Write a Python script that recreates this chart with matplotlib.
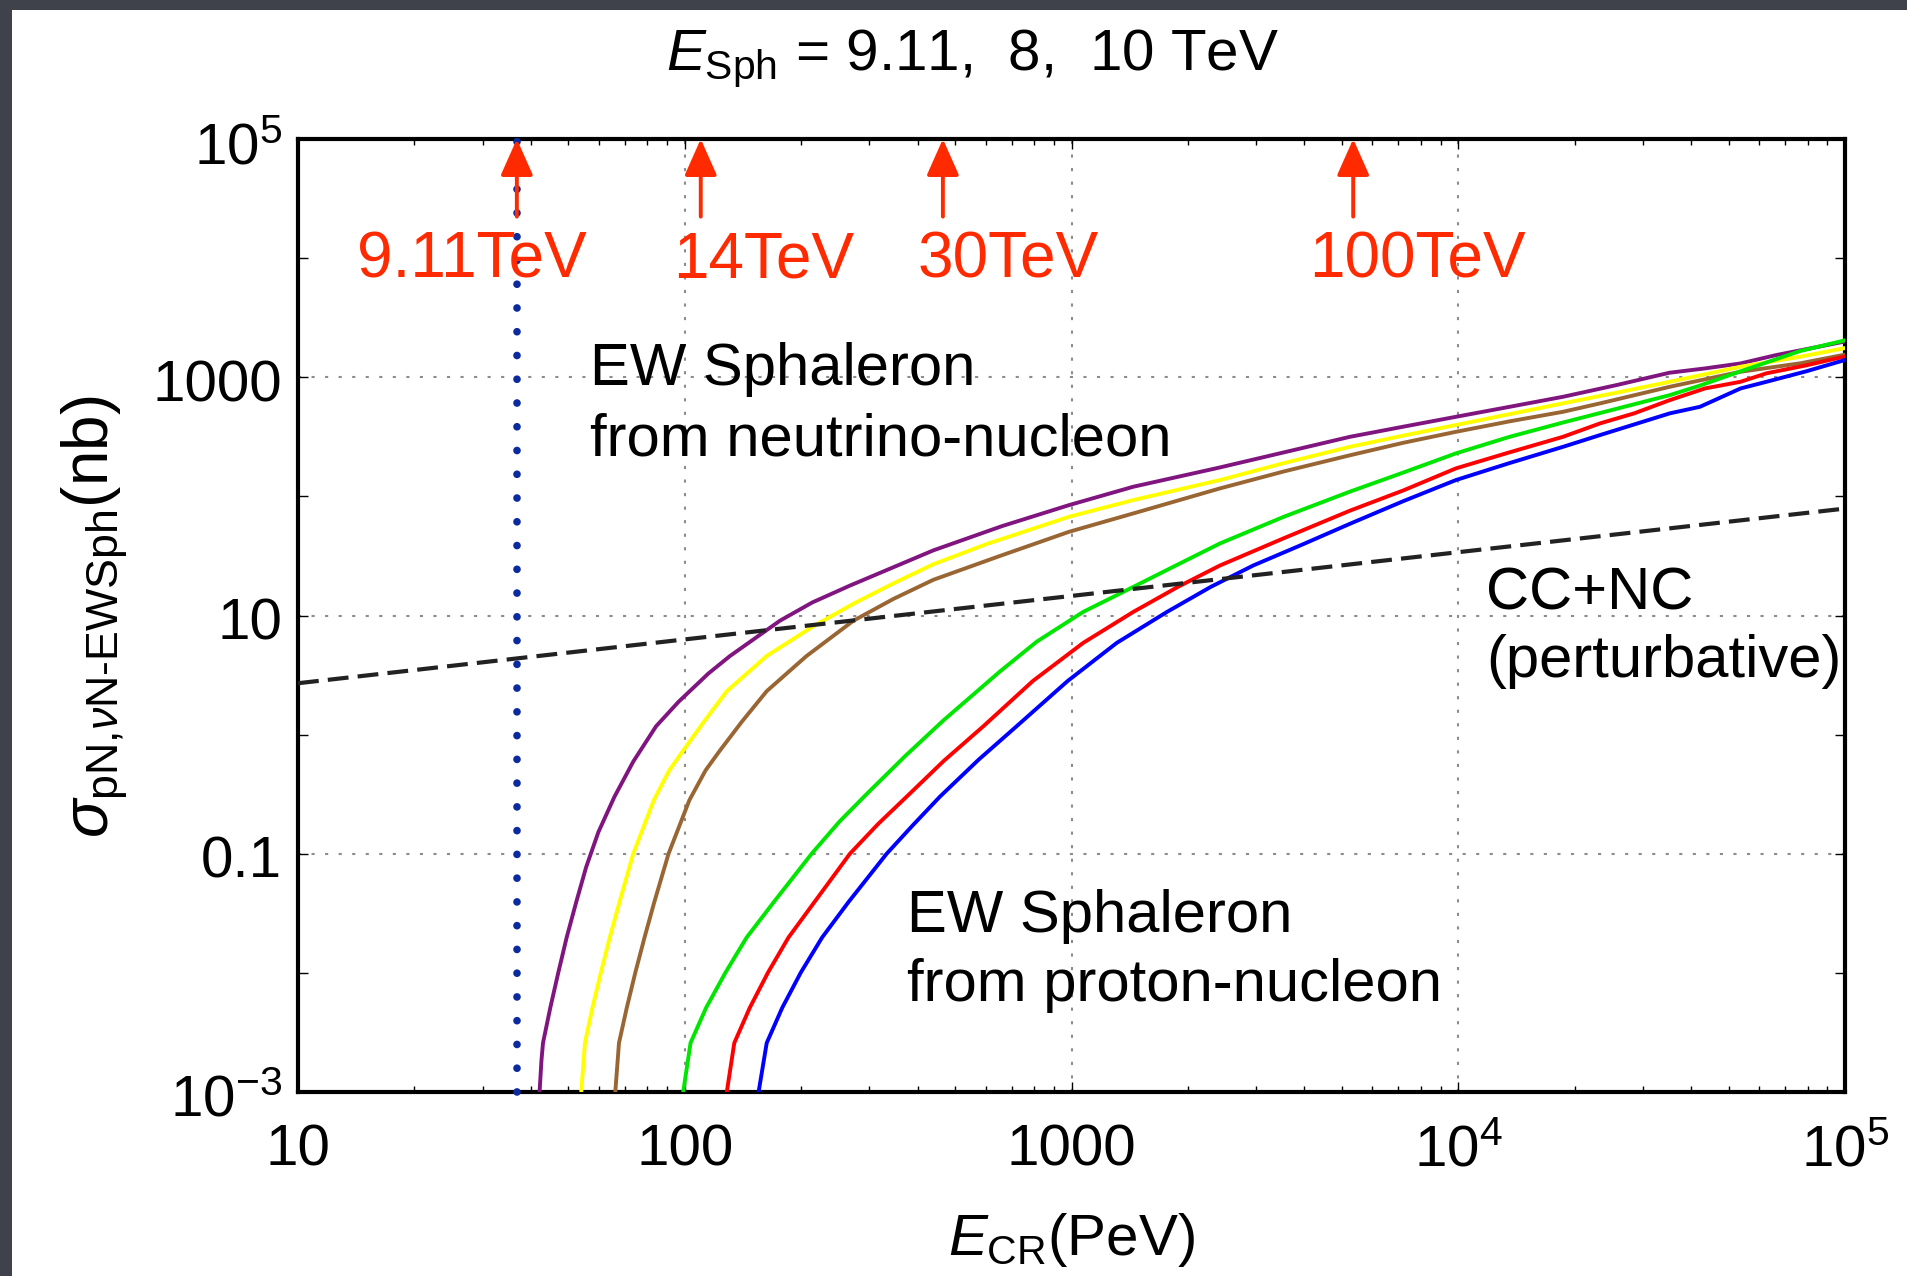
## Librerías
import matplotlib
matplotlib.use("Agg")
import matplotlib.pyplot as plt
from matplotlib.patches import Rectangle
from matplotlib.ticker import LogLocator, NullFormatter

plt.rcParams['font.family'] = ['Liberation Sans', 'DejaVu Sans']
plt.rcParams['mathtext.fontset'] = 'custom'
plt.rcParams['mathtext.rm'] = 'Liberation Sans'
plt.rcParams['mathtext.it'] = 'Liberation Sans:italic'
plt.rcParams['mathtext.bf'] = 'Liberation Sans:bold'

## Datos (E_CR en PeV, sigma en nb)
E_purple = [42.1, 42.6, 43.0, 44.9, 47.1, 49.5, 52.4, 55.6, 59.8, 65.8, 73.6, 84.3, 96.4, 115.1, 130.9,
            176.2, 213.8, 267.3, 439.5, 660.7, 986.3, 1445, 2421, 3548, 5248, 7211, 9863, 13580,
            18660, 25640, 35160, 43450, 53700, 66370, 1e5]
s_purple = [0.00096, 0.00183, 0.00258, 0.00508, 0.01005, 0.0198, 0.0392, 0.0773, 0.152, 0.301, 0.594,
            1.175, 1.888, 3.258, 4.571, 9.036, 12.88, 17.82, 35.24, 56.23, 84.53, 120.5, 175.0, 234.4,
            316.2, 384.6, 465.6, 564.9, 685.5, 859.0, 1091, 1186, 1306, 1535, 1995]

E_yellow = [53.95, 55.2, 57.7, 60.7, 64.0, 67.8, 73.6, 83.2, 91.2, 98.9, 112.2, 128.5, 162.9, 215.3,
            275.4, 346.7, 439.5, 603.9, 986.3, 1445, 2421, 3548, 5248, 7211, 9863, 13580, 18660,
            25640, 35240, 53700, 76560, 1e5]
s_yellow = [0.00096, 0.00258, 0.00508, 0.01005, 0.0198, 0.0392, 0.1, 0.2818, 0.5012, 0.7278, 1.288,
            2.317, 4.571, 8.147, 12.74, 18.62, 26.92, 39.81, 67.45, 93.11, 137.1, 190.5, 260.6, 323.6,
            397.2, 489.8, 603.9, 741.3, 916.2, 1225, 1486, 1758]

E_brown = [66.07, 67.6, 70.8, 74.5, 78.7, 83.4, 90.8, 102.8, 113.2, 123.0, 140.6, 162.9, 206.5, 272.9,
           346.7, 439.5, 653.1, 986.3, 1445, 2421, 3548, 5248, 7211, 9863, 13580, 18660, 23280,
           35240, 53700, 76560, 1e5]
s_brown = [0.00096, 0.00258, 0.00508, 0.01005, 0.0198, 0.0392, 0.1, 0.2818, 0.5012, 0.7278, 1.288,
           2.317, 4.571, 9.036, 13.80, 19.95, 31.62, 50.47, 71.94, 116.7, 162.2, 221.3, 281.8, 348.3,
           426.6, 512.9, 603.9, 831.8, 1112, 1309, 1549]

E_green = [98.9, 103.5, 113.5, 127.4, 144.5, 169.8, 212.8, 251.2, 295.1, 371.5, 466.7, 653.1, 812.8,
           1072, 1445, 1862, 2421, 3548, 5248, 7211, 9863, 13580, 18660, 23280, 35240, 42170,
           53700, 76560, 1e5]
s_green = [0.00096, 0.00258, 0.00508, 0.01005, 0.0198, 0.0392, 0.1, 0.1862, 0.3162, 0.6607, 1.318,
           3.388, 6.026, 10.72, 17.38, 26.30, 40.27, 67.61, 109.6, 158.5, 229.6, 316.2, 416.9, 501.2,
           707.9, 851.1, 1122, 1660, 2042]

E_red = [128.2, 134.3, 147.2, 164.1, 185.4, 216.3, 267.3, 316.2, 375.0, 467.7, 591.6, 794.3, 1072,
         1445, 1884, 2421, 3548, 5248, 7211, 9863, 13580, 18660, 23280, 28510, 35240, 43450, 53700,
         62660, 79430, 1e5]
s_red = [0.00096, 0.00258, 0.00508, 0.01005, 0.0198, 0.0392, 0.1, 0.1778, 0.302, 0.6026, 1.175,
         2.818, 5.888, 10.72, 17.38, 26.30, 44.67, 75.86, 112.2, 171.8, 234.4, 316.2, 410.2, 497.7,
         642.7, 805.4, 916.2, 1079, 1259, 1496]

E_blue = [154.9, 162.9, 178.6, 199.5, 226.5, 264.9, 332.7, 389.0, 457.1, 575.4, 721.1, 977.2, 1309,
          1766, 2291, 2951, 3981, 5248, 7211, 9863, 13580, 18660, 23280, 35240, 42170, 53700,
          62660, 79430, 1e5]
s_blue = [0.00096, 0.00258, 0.00508, 0.01005, 0.0198, 0.0392, 0.1, 0.1738, 0.302, 0.6166, 1.175,
          2.818, 5.888, 10.72, 17.38, 26.30, 39.81, 58.88, 91.20, 137.1, 190.5, 260.6, 327.3, 497.7,
          564.9, 805.4, 916.2, 1122, 1396]

# CC+NC perturbativo
E_ccnc = [10, 100, 1000, 1e4, 1e5]
s_ccnc = [2.7, 6.3, 14.6, 34, 79]

# flechas rojas (energias de colisionador)
E_arrow = [36.8, 110, 465, 5350]
arrow_labels = ['9.11TeV', '14TeV', '30TeV', '100TeV']
E_arrow_lab = [28.2, 160, 686, 7820]
E_dotted = 36.8

x_ticks = [10, 100, 1000, 1e4, 1e5]
x_ticklabels = ['10', '100', '1000', r'$\mathregular{10^{4}}$', r'$\mathregular{10^{5}}$']
y_ticks = [1e5, 1000, 10, 0.1, 1e-3]
y_ticklabels = [r'$\mathregular{10^{5}}$', '1000', '10', '0.1', r'$\mathregular{10^{-3}}$']
grid_x = [100, 1000, 1e4]
grid_y = [0.1, 10, 1000]

## Figura
W, H = 1907, 1276
fig = plt.figure(figsize=(W / 100, H / 100), dpi=100)
fig.patch.set_facecolor('white')

# borde oscuro de la diapositiva
fig.patches.append(Rectangle((0, 1 - 10 / H), 1, 10 / H, transform=fig.transFigure,
                             facecolor='#3f424a', edgecolor='none', zorder=-5))
fig.patches.append(Rectangle((0, 0), 12 / W, 1, transform=fig.transFigure,
                             facecolor='#3f424a', edgecolor='none', zorder=-5))

ax = fig.add_axes([298 / W, 1 - 1092 / H, (1845 - 298) / W, (1092 - 139) / H])
ax.set_xscale('log')
ax.set_yscale('log')
ax.set_xlim(10, 1e5)
ax.set_ylim(1e-3, 1e5)

for gx in grid_x:
    ax.axvline(gx, color='#8c8c8c', lw=1.5, ls=(0, (1.5, 5)), zorder=0.5)
for gy in grid_y:
    ax.axhline(gy, color='#8c8c8c', lw=1.5, ls=(0, (1.5, 5)), zorder=0.5)

curvas = [(E_purple, s_purple, '#80157f'),
          (E_yellow, s_yellow, '#ffff00'),
          (E_brown, s_brown, '#996633'),
          (E_green, s_green, '#00e600'),
          (E_red, s_red, '#ff0000'),
          (E_blue, s_blue, '#0000ff')]
for E, s, c in curvas:
    ax.plot(E, s, '-', color=c, lw=2.8, solid_joinstyle='round', zorder=3)

ax.plot(E_ccnc, s_ccnc, color='#222222', lw=3, ls=(0, (5, 2.2)), zorder=4)

# linea punteada azul
ax.plot([E_dotted, E_dotted], [1e-3, 1.2e5], color='#0b2a9e', lw=5.5,
        ls=(0, (0.01, 3.1)), dash_capstyle='round', clip_on=False, zorder=5)

# flechas y etiquetas rojas
for Ea, El, lab in zip(E_arrow, E_arrow_lab, arrow_labels):
    ax.annotate('', xy=(Ea, 1e5), xytext=(Ea, 22300),
                arrowprops=dict(arrowstyle='-|>,head_length=0.45,head_width=0.2',
                                color='#ff2a00', lw=2.8, mutation_scale=50,
                                shrinkA=0, shrinkB=0), annotation_clip=False, zorder=6)
    ax.text(El, 6930, lab, color='#ff2a00', fontsize=46, ha='center', va='baseline', zorder=6)

## Ejes y marcas
for sp in ax.spines.values():
    sp.set_linewidth(3)
ax.xaxis.set_major_locator(LogLocator(base=10, numticks=10))
ax.xaxis.set_minor_locator(LogLocator(base=10, subs=range(2, 10), numticks=10))
ax.yaxis.set_major_locator(LogLocator(base=10, numticks=20))
ax.yaxis.set_minor_locator(LogLocator(base=10, subs=[], numticks=20))
ax.xaxis.set_minor_formatter(NullFormatter())
ax.tick_params(which='both', direction='in', top=True, right=True,
               labelbottom=False, labelleft=False, width=1)
ax.tick_params(which='major', length=7.5)
ax.tick_params(which='minor', length=4.5)

for v, lab in zip(x_ticks, x_ticklabels):
    ax.annotate(lab, xy=(v, 0), xycoords=('data', 'axes fraction'), xytext=(0, -52.6),
                textcoords='offset points', ha='center', va='baseline', fontsize=42,
                annotation_clip=False)
for v, lab in zip(y_ticks, y_ticklabels):
    ax.annotate(lab, xy=(0, v), xycoords=('axes fraction', 'data'), xytext=(-11.5, -17.3),
                textcoords='offset points', ha='right', va='baseline', fontsize=42,
                annotation_clip=False)

## Textos
def fx(px):
    return px / W

def fy(py):
    return 1 - py / H

fig.text(fx(973), fy(70), r'$\mathit{E}_{\mathrm{Sph}}$ = 9.11,  8,  10 TeV',
         ha='center', va='baseline', fontsize=42)
fig.text(fx(1071), fy(1255), r'$\mathit{E}_{\mathrm{CR}}$(PeV)',
         ha='center', va='baseline', fontsize=42)
fig.text(fx(95), fy(617), r'$\sigma_{\text{pN,}\nu\text{N-EWSph}}$(nb)',
         rotation=90, ha='center', va='center', fontsize=46)

lineas = [('EW Sphaleron', 590, 385), ('from neutrino-nucleon', 590, 456),
          ('EW Sphaleron', 907, 932), ('from proton-nucleon', 907, 1001),
          ('CC+NC', 1486, 610), ('(perturbative)', 1486, 677)]
for t, px, py in lineas:
    fig.text(fx(px), fy(py), t, ha='left', va='baseline', fontsize=43)

fig.savefig('out.png', dpi=100)
